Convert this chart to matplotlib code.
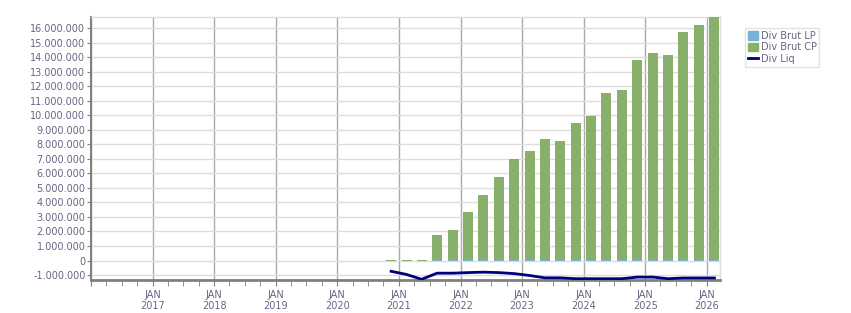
import matplotlib.pyplot as plt
import matplotlib.dates as mdates
import matplotlib.ticker as mticker
from matplotlib.lines import Line2D
from matplotlib.patches import Patch
import pandas as pd

# quarterly points, Nov 2020 .. Feb 2026
dates = pd.date_range('2020-11-01', periods=22, freq='3MS') + pd.Timedelta(days=14)
div_brut_lp = [0, 0, 0, 60000, 60000, 60000, 60000, 60000, 60000, 60000, 60000,
               60000, 60000, 60000, 60000, 60000, 60000, 60000, 60000, 60000, 60000, 60000]
div_brut_cp = [50000, 50000, 50000, 1720000, 2070000, 3310000, 4480000, 5660000,
               6900000, 7500000, 8280000, 8200000, 9380000, 9860000, 11500000,
               11660000, 13720000, 14200000, 14070000, 15660000, 16140000, 16690000]
div_liq = [-740000, -960000, -1290000, -870000, -870000, -830000, -800000, -830000,
           -900000, -1030000, -1190000, -1190000, -1250000, -1250000, -1250000,
           -1250000, -1140000, -1140000, -1250000, -1200000, -1200000, -1200000]

c_lp = '#7ab2d6'
c_cp = '#88b06a'
c_liq = '#00007f'
txt = '#666685'

plt.rcParams['font.family'] = 'DejaVu Sans'
plt.rcParams['font.size'] = 7

fig = plt.figure(figsize=(8.51, 3.13), dpi=100)
ax = fig.add_axes([91 / 851, 1 - 280 / 313, (720 - 91) / 851, (280 - 17) / 313])

x = mdates.date2num(dates)
width = 59
ax.bar(x, div_brut_lp, width=width, color=c_lp, zorder=3)
ax.bar(x, div_brut_cp, width=width, bottom=div_brut_lp, color=c_cp, zorder=3)
ax.plot(x, div_liq, color=c_liq, lw=2, zorder=4)

ax.set_xlim(mdates.date2num(pd.Timestamp('2016-01-01')),
            mdates.date2num(pd.Timestamp('2026-03-20')))
ax.set_ylim(-1340000, 16760000)

ax.yaxis.set_major_locator(mticker.MultipleLocator(1000000))
ax.yaxis.set_major_formatter(mticker.FuncFormatter(lambda v, p: f'{v:,.0f}'.replace(',', '.')))
ax.xaxis.set_major_locator(mdates.YearLocator(1, month=1, day=1))
ax.xaxis.set_minor_locator(mdates.MonthLocator(bymonth=[1, 4, 7, 10]))
ax.xaxis.set_major_formatter(mticker.FuncFormatter(
    lambda v, p: 'JAN\n' + mdates.num2date(v).strftime('%Y') if mdates.num2date(v).year > 2016 else ''))

ax.grid(axis='y', color='#dddddd', lw=1, zorder=0)
ax.grid(axis='x', which='major', color='#aaaaaa', lw=1, zorder=0)

for s in ['top', 'right']:
    ax.spines[s].set_color('#dddddd')
    ax.spines[s].set_linewidth(1)
ax.spines['left'].set_color('#808080')
ax.spines['left'].set_linewidth(1.5)
ax.spines['bottom'].set_color('#808080')
ax.spines['bottom'].set_linewidth(2)

ax.tick_params(axis='y', colors='#808080', labelcolor=txt, length=3, pad=1, labelsize=7)
ax.tick_params(axis='x', which='both', colors='#808080', labelcolor=txt, length=4, labelsize=7, pad=3)

handles = [Patch(color=c_lp, label='Div Brut LP'),
           Patch(color=c_cp, label='Div Brut CP'),
           Line2D([], [], color=c_liq, lw=2, label='Div Liq')]
leg = ax.legend(handles=handles, loc='upper left', bbox_to_anchor=(745 / 851, 1 - 28 / 313),
                bbox_transform=fig.transFigure, fancybox=False, frameon=True,
                handlelength=1, handleheight=1, handletextpad=0.3, borderpad=0.3,
                labelspacing=0.15, fontsize=7, labelcolor=txt, borderaxespad=0)
leg.get_frame().set_edgecolor('#dddddd')
leg.get_frame().set_linewidth(1)

fig.savefig('out.png', dpi=100)
